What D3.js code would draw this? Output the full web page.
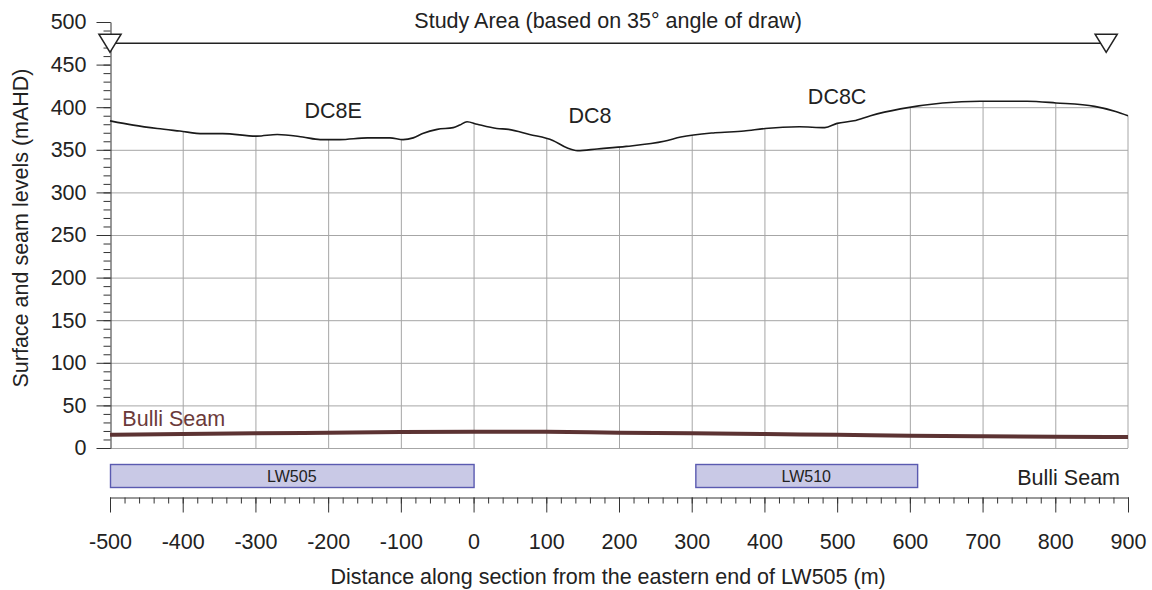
<!DOCTYPE html>
<html>
<head>
<meta charset="utf-8">
<script src="https://cdn.jsdelivr.net/npm/d3@7"></script>
<style>
  body { margin: 0; background: #fff; }
  svg { display: block; font-family: "Liberation Sans", Arial, sans-serif; }
</style>
</head>
<body>
<div class="chart"></div>
<script>
// surface profile (distance m, level mAHD)
const surfaceDist = [-500, -468, -435, -404, -372, -345, -298, -270, -235, -211, -184, -146, -115, -97, -83, -70, -50, -28, -19, -9, 5, 32, 48, 77, 109, 129, 143, 170, 210, 262, 285, 332, 372, 401, 448, 483, 500, 523, 546, 587, 645, 697, 761, 801, 854, 883, 900];
const surfaceLevel = [384, 379, 375, 372, 369, 369, 366, 368, 365, 362, 362, 364, 364, 362, 364, 369, 374, 376, 379, 383, 380, 375, 374, 368, 361, 352, 349, 351, 354, 360, 365, 370, 372, 375, 377, 376, 381, 384, 390, 398, 405, 407, 407, 405, 401, 395, 390];

// Bulli seam
const seamDist = [-500, -400, -300, -200, -100, 0, 100, 200, 300, 400, 500, 600, 700, 800, 900];
const seamLevel = [15.5, 16.3, 17.2, 18, 18.8, 19.2, 19, 18, 17.3, 16.3, 15.5, 14.5, 13.8, 13.2, 12.8];

// longwalls
const panelNames = ['LW505', 'LW510'];
const panelStart = [-500, 305];
const panelEnd = [0, 610];

// features
const featureNames = ['DC8E', 'DC8', 'DC8C'];
const featureDist = [-193, 160, 500];
const featureLevel = [387, 381, 404];

// study area
const studyStart = -500, studyEnd = 870, studyLevel = 475;

const xTicks = [-500, -400, -300, -200, -100, 0, 100, 200, 300, 400, 500, 600, 700, 800, 900];
const yTicks = [0, 50, 100, 150, 200, 250, 300, 350, 400, 450, 500];

const width = 1152, height = 590;
const mLeft = 110, mRight = 1128, mTop = 22, mBottom = 448;
const axisY = 497;
const fs = 21.5;

const svg = d3.select('.chart')
  .append('svg')
    .attr('width', width)
    .attr('height', height)

const x = d3.scaleLinear().domain([-500, 900]).range([mLeft, mRight]);
const y = d3.scaleLinear().domain([0, 500]).range([mBottom, mTop]);

const surface = surfaceDist.map((d, i) => [d, surfaceLevel[i]]);
const seam = seamDist.map((d, i) => [d, seamLevel[i]]);

// grid only below the ground surface
svg.append('clipPath')
    .attr('id', 'below')
  .append('path')
    .attr('d', d3.area().x(d => x(d[0])).y0(y(0)).y1(d => y(d[1])).curve(d3.curveMonotoneX)(surface));

const grid = svg.append('g')
  .attr('clip-path', 'url(#below)')
  .attr('stroke', '#a6a6a6')
  .attr('stroke-width', 1)

grid.selectAll('.vg')
  .data(xTicks.slice(1, -1))
  .enter().append('line')
    .attr('x1', d => x(d) + 0.5).attr('x2', d => x(d) + 0.5)
    .attr('y1', y(0)).attr('y2', mTop)

grid.selectAll('.hg')
  .data(yTicks.slice(1))
  .enter().append('line')
    .attr('x1', mLeft).attr('x2', mRight)
    .attr('y1', d => y(d) + 0.5).attr('y2', d => y(d) + 0.5)

// bottom and right border
svg.append('line')
  .attr('x1', mLeft).attr('x2', mRight)
  .attr('y1', y(0) + 0.5).attr('y2', y(0) + 0.5)
  .attr('stroke', '#a6a6a6')
svg.append('line')
  .attr('x1', x(900)).attr('x2', x(900))
  .attr('y1', y(0)).attr('y2', y(surfaceLevel[surfaceLevel.length - 1]))
  .attr('stroke', '#a6a6a6')

// y axis
const yMinor = svg.append('g')
  .attr('transform', `translate(${mLeft + 0.5}, 0)`)
  .call(d3.axisLeft(y).tickValues(d3.range(0, 501, 10)).tickSize(7).tickFormat(''))
yMinor.select('.domain').remove()

const yAxis = svg.append('g')
  .attr('transform', `translate(${mLeft + 0.5}, 0)`)
  .call(d3.axisLeft(y).tickValues(yTicks).tickSize(14).tickPadding(10).tickSizeOuter(0))
yAxis.selectAll('text').attr('font-size', fs).attr('fill', '#222').attr('font-family', null)
svg.selectAll('.domain, .tick line').attr('stroke', '#333')

// surface line
svg.append('path')
  .attr('d', d3.line().x(d => x(d[0])).y(d => y(d[1])).curve(d3.curveMonotoneX)(surface))
  .attr('fill', 'none')
  .attr('stroke', '#1a1a1a')
  .attr('stroke-width', 1.6)

// seam line
svg.append('path')
  .attr('d', d3.line().x(d => x(d[0])).y(d => y(d[1])).curve(d3.curveMonotoneX)(seam))
  .attr('fill', 'none')
  .attr('stroke', '#5c3333')
  .attr('stroke-width', 4)

svg.append('text')
  .text('Bulli Seam')
  .attr('x', x(-483))
  .attr('y', y(26))
  .attr('font-size', fs)
  .attr('fill', '#6b3a3a')

// feature labels
svg.selectAll('.feat')
  .data(featureNames)
  .enter().append('text')
    .text(d => d)
    .attr('x', (d, i) => x(featureDist[i]))
    .attr('y', (d, i) => y(featureLevel[i]))
    .attr('text-anchor', 'middle')
    .attr('font-size', fs)
    .attr('fill', '#222')

// study area
svg.append('line')
  .attr('x1', x(studyStart)).attr('x2', x(studyEnd))
  .attr('y1', y(studyLevel)).attr('y2', y(studyLevel))
  .attr('stroke', '#222')
  .attr('stroke-width', 1.6)

svg.selectAll('.tri')
  .data([studyStart, studyEnd])
  .enter().append('path')
    .attr('transform', d => `translate(${x(d)}, ${y(studyLevel)})`)
    .attr('d', 'M-11,-9 L11,-9 L0,9 Z')
    .attr('fill', '#fff')
    .attr('stroke', '#222')
    .attr('stroke-width', 1.6)

svg.append('text')
  .text('Study Area (based on 35° angle of draw)')
  .attr('x', x(185))
  .attr('y', 28)
  .attr('text-anchor', 'middle')
  .attr('font-size', fs)
  .attr('fill', '#222')

// longwall panels
svg.selectAll('.panel')
  .data(panelNames)
  .enter().append('rect')
    .attr('x', (d, i) => x(panelStart[i]) + 0.5)
    .attr('width', (d, i) => x(panelEnd[i]) - x(panelStart[i]))
    .attr('y', 464.5)
    .attr('height', 23)
    .attr('fill', '#c9c9e6')
    .attr('stroke', '#5a5ab0')
    .attr('stroke-width', 1.4)

svg.selectAll('.plabel')
  .data(panelNames)
  .enter().append('text')
    .text(d => d)
    .attr('x', (d, i) => (x(panelStart[i]) + x(panelEnd[i])) / 2)
    .attr('y', 482)
    .attr('text-anchor', 'middle')
    .attr('font-size', 16)
    .attr('fill', '#222')

svg.append('text')
  .text('Bulli Seam')
  .attr('x', 1120)
  .attr('y', 485)
  .attr('text-anchor', 'end')
  .attr('font-size', fs)
  .attr('fill', '#222')

// x axis
const xMinor = svg.append('g')
  .attr('transform', `translate(0, ${axisY + 0.5})`)
  .call(d3.axisBottom(x).tickValues(d3.range(-500, 901, 20)).tickSize(6).tickFormat(''))
xMinor.select('.domain').remove()

const xAxis = svg.append('g')
  .attr('transform', `translate(0, ${axisY + 0.5})`)
  .call(d3.axisBottom(x).tickValues(xTicks).tickSize(15).tickPadding(21).tickSizeOuter(0).tickFormat(d => String(d)))
xAxis.selectAll('text').attr('font-size', fs).attr('fill', '#222').attr('font-family', null)
svg.selectAll('.domain, .tick line').attr('stroke', '#333')

svg.append('text')
  .text('Distance along section from the eastern end of LW505 (m)')
  .attr('x', x(185))
  .attr('y', 584)
  .attr('text-anchor', 'middle')
  .attr('font-size', fs)
  .attr('fill', '#222')

{
  let tx = 28, ty = 228;
  svg.append('text')
    .text('Surface and seam levels (mAHD)')
    .attr('x', tx)
    .attr('y', ty)
    .attr('text-anchor', 'middle')
    .attr('transform', `rotate(270 ${tx} ${ty})`)
    .attr('font-size', fs)
    .attr('fill', '#222')
}
</script>
</body>
</html>
